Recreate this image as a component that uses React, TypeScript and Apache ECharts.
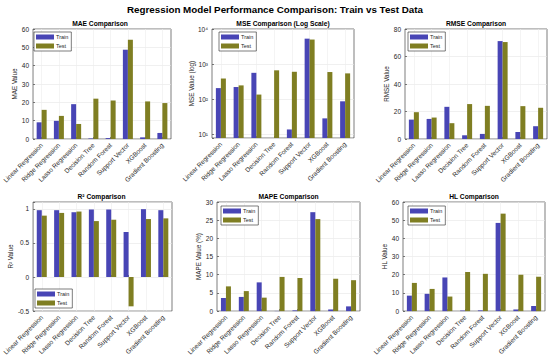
import React, { useEffect, useRef } from 'react';
import * as echarts from 'echarts';

const categories = ['Linear Regression', 'Ridge Regression', 'Lasso Regression', 'Decision Tree', 'Random Forest', 'Support Vector', 'XGBoost', 'Gradient Boosting'];

const maeTrain = [9.1, 9.9, 19.0, 0.3, 0.5, 48.7, 0.9, 3.3];
const maeTest = [15.9, 12.6, 8.2, 22.0, 21.0, 54.1, 20.5, 19.6];
const mseTrain = [205, 220, 560, 7.5, 13.5, 5300, 28, 86];
const mseTest = [385, 245, 134, 660, 600, 5000, 590, 540];
const rmseTrain = [14.1, 14.6, 23.4, 2.7, 3.7, 71.2, 5.1, 9.3];
const rmseTest = [19.5, 15.6, 11.5, 25.4, 24.1, 70.5, 23.9, 22.7];
const r2Train = [0.98, 0.98, 0.95, 0.99, 0.99, 0.66, 0.995, 0.98];
const r2Test = [0.9, 0.94, 0.96, 0.82, 0.84, -0.43, 0.85, 0.86];
const mapeTrain = [3.6, 3.9, 7.9, 0.05, 0.2, 27.2, 0.45, 1.3];
const mapeTest = [6.8, 5.5, 3.7, 9.4, 9.1, 25.3, 8.9, 8.5];
const hlTrain = [8.5, 9.5, 18.5, 0.3, 0.4, 48.5, 0.9, 2.8];
const hlTest = [15.5, 12.2, 8.0, 21.5, 20.5, 53.6, 20.0, 18.9];

const mainTitle = 'Regression Model Performance Comparison: Train vs Test Data';
const seriesNames = ['Train', 'Test'];

const FONT = "'Liberation Sans', Arial, Helvetica, sans-serif";
const TXT = '#262626';
const TRAIN_COLOR = '#4845b5';
const TEST_COLOR = '#7f7e22';

const sup: Record<string, string> = { '0': '⁰', '1': '¹', '2': '²', '3': '³', '4': '⁴' };

const panels = [
  { title: 'MAE Comparison', yName: 'MAE Value', train: maeTrain, test: maeTest, grid: { left: 29, top: 29, width: 142, height: 110 }, y: { type: 'value', min: 0, max: 60, interval: 10 }, nameGap: 13, legend: { left: 34, top: 32 } },
  { title: 'MSE Comparison (Log Scale)', yName: 'MSE Value (log)', train: mseTrain, test: mseTest, grid: { left: 212, top: 29, width: 142, height: 109 }, y: { type: 'log', min: 7.7, max: 10000, logBase: 10 }, nameGap: 13, legend: { left: 219, top: 32 }, log: true },
  { title: 'RMSE Comparison', yName: 'RMSE Value', train: rmseTrain, test: rmseTest, grid: { left: 405, top: 29, width: 142, height: 110 }, y: { type: 'value', min: 0, max: 80, interval: 20 }, nameGap: 14, legend: { left: 408, top: 32 } },
  { title: 'R² Comparison', yName: 'R² Value', train: r2Train, test: r2Test, grid: { left: 31, top: 202, width: 141, height: 110 }, y: { type: 'value', min: -0.5, max: 1.1, interval: 0.5 }, nameGap: 17, legend: { left: 35, top: 289 }, r2: true },
  { title: 'MAPE Comparison', yName: 'MAPE Value (%)', train: mapeTrain, test: mapeTest, grid: { left: 217, top: 202, width: 143, height: 110 }, y: { type: 'value', min: 0, max: 30, interval: 5 }, nameGap: 14, legend: { left: 221, top: 206 } },
  { title: 'HL Comparison', yName: 'HL Value', train: hlTrain, test: hlTest, grid: { left: 403, top: 202, width: 142, height: 110 }, y: { type: 'value', min: 0, max: 60, interval: 10 }, nameGap: 13, legend: { left: 408, top: 206 } },
];

export default function App() {
  const ref = useRef<HTMLDivElement>(null);
  useEffect(() => {
    if (!ref.current) return;
    const chart = echarts.init(ref.current, null, { renderer: 'svg' });
    const grids: any[] = [];
    const xAxes: any[] = [];
    const yAxes: any[] = [];
    const series: any[] = [];
    const legends: any[] = [];
    const graphics: any[] = [
      {
        type: 'text', x: 275, y: 4,
        style: { text: mainTitle, textAlign: 'center', textVerticalAlign: 'top', fontSize: 9.8, fontWeight: 'bold', fontFamily: FONT, fill: '#000' },
      },
    ];
    panels.forEach((p: any, i: number) => {
      grids.push({ ...p.grid, show: true, borderColor: TXT, borderWidth: 0.6, backgroundColor: '#fff' });
      graphics.push({
        type: 'text', x: p.grid.left + p.grid.width / 2, y: p.grid.top - 9,
        style: { text: p.title, textAlign: 'center', textVerticalAlign: 'top', fontSize: 6.7, fontWeight: 'bold', fontFamily: FONT, fill: '#000' },
      });
      xAxes.push({
        type: 'category', gridIndex: i, data: categories,
        axisLine: { show: false },
        axisTick: { show: true, inside: true, alignWithLabel: true, length: 2, lineStyle: { color: TXT, width: 0.6 } },
        axisLabel: { interval: 0, rotate: 45, fontSize: 6.5, color: TXT, fontFamily: FONT, margin: 5 },
        splitLine: { show: true, alignWithLabel: true, lineStyle: { color: '#ececec', width: 0.6 } },
      });
      const yAxis: any = {
        ...p.y, gridIndex: i,
        name: p.yName, nameLocation: 'middle', nameGap: p.nameGap,
        nameTextStyle: { fontSize: 6.3, color: TXT, fontFamily: FONT },
        axisLine: { show: false },
        axisTick: { show: true, inside: true, length: 2, lineStyle: { color: TXT, width: 0.6 } },
        axisLabel: { fontSize: 6.5, color: TXT, fontFamily: FONT, margin: 4 },
        splitLine: { show: true, lineStyle: { color: '#e6e6e6', width: 0.6 } },
      };
      if (p.log) {
        yAxis.axisLabel.formatter = (v: number) => {
          const l = Math.log10(v);
          const r = Math.round(l);
          if (Math.abs(l - r) > 1e-6) return '';
          return '10' + String(r).split('').map((c) => sup[c] || c).join('');
        };
      }
      if (p.r2) {
        yAxis.axisLabel.formatter = (v: number) => {
          const r = Math.round(v * 2) / 2;
          if (Math.abs(v - r) > 1e-6) return '';
          return String(r);
        };
      }
      yAxes.push(yAxis);
      series.push({
        type: 'bar', name: seriesNames[0], xAxisIndex: i, yAxisIndex: i, data: p.train,
        barWidth: 5, barGap: '0%', clip: true, itemStyle: { color: TRAIN_COLOR },
      });
      series.push({
        type: 'bar', name: seriesNames[1], xAxisIndex: i, yAxisIndex: i, data: p.test,
        barWidth: 5, barGap: '0%', clip: true, itemStyle: { color: TEST_COLOR },
      });
      legends.push({
        ...p.legend, orient: 'vertical', data: seriesNames,
        backgroundColor: '#fff', borderColor: TXT, borderWidth: 0.6, borderRadius: 0,
        padding: [2, 3, 2, 2], itemGap: 3, itemWidth: 18, itemHeight: 5, icon: 'rect',
        textStyle: { fontSize: 5.5, color: TXT, fontFamily: FONT, padding: [0, 0, 0, -3] },
        selectedMode: false,
      });
    });
    chart.setOption({
      animation: false,
      backgroundColor: '#fff',
      textStyle: { fontFamily: FONT },
      grid: grids,
      xAxis: xAxes,
      yAxis: yAxes,
      series,
      legend: legends,
      graphic: graphics,
    });
    return () => chart.dispose();
  }, []);
  return <div ref={ref} style={{ position: 'fixed', left: 0, top: 0, width: 550, height: 358 }} />;
}
